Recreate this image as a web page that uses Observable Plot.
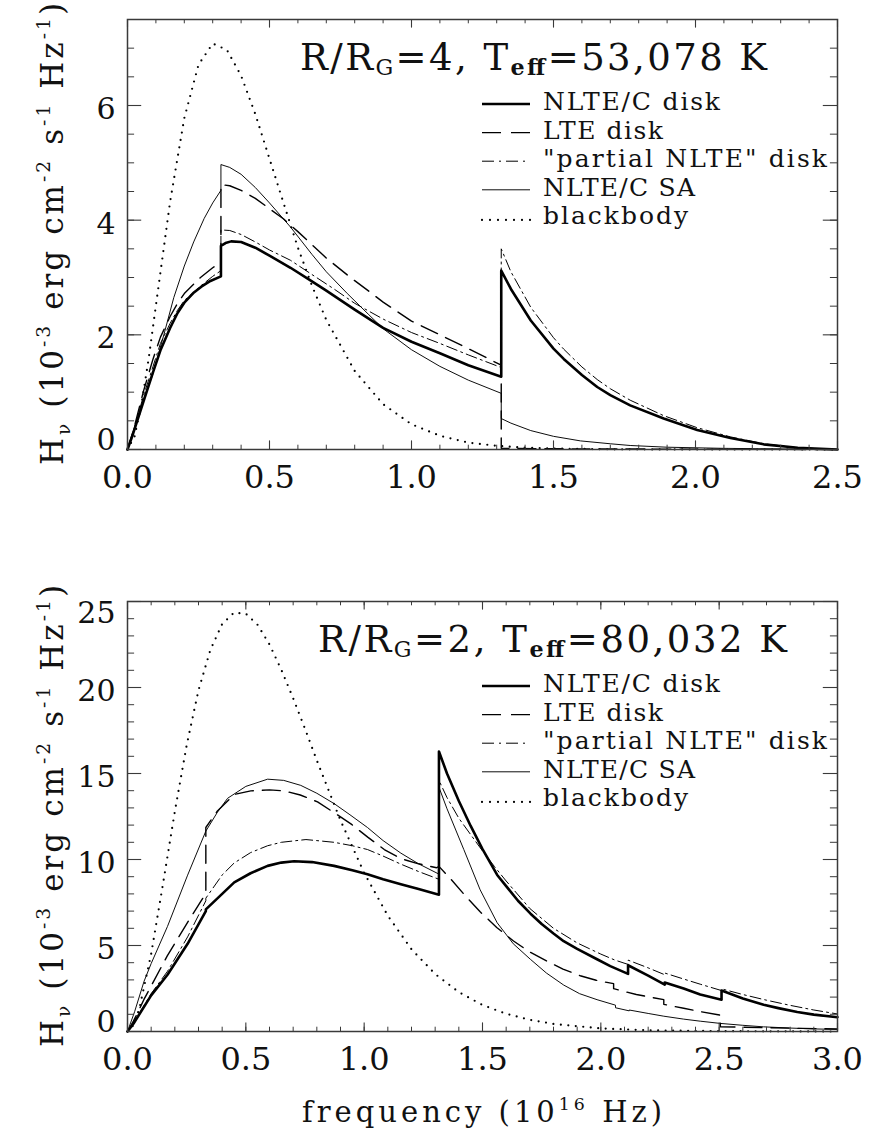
<!DOCTYPE html>
<html>
<head>
<meta charset="utf-8">
<script src="https://cdn.jsdelivr.net/npm/d3@7"></script>
<script src="https://cdn.jsdelivr.net/npm/@observablehq/plot@0.6"></script>
<style>
  body { margin: 0; background: #fff; }
  #chart svg { display: block; }
</style>
</head>
<body>
<div id="chart"></div>
<script>
// ---------- data: [frequency (1e16 Hz), H_nu (1e-3 erg cm^-2 s^-1 Hz^-1)] ----------
const seriesNames = ["NLTE/C disk", "LTE disk", "\"partial NLTE\" disk", "NLTE/C SA", "blackbody"];

// Top panel: R/R_G = 4, Teff = 53,078 K
const top_nlte_disk = [[0,0],[0.02,0.28],[0.057,0.85],[0.09,1.35],[0.116,1.73],[0.15,2.12],[0.175,2.37],[0.2,2.56],[0.234,2.74],[0.26,2.84],[0.292,2.94],[0.329,3.02],[0.329,3.55],[0.345,3.6],[0.365,3.63],[0.4,3.62],[0.45,3.52],[0.5,3.38],[0.574,3.17],[0.644,2.95],[0.7,2.77],[0.8,2.44],[0.9,2.12],[1.0,1.88],[1.1,1.68],[1.2,1.47],[1.316,1.27],[1.316,3.12],[1.35,2.8],[1.42,2.25],[1.5,1.76],[1.536,1.58],[1.6,1.3],[1.654,1.09],[1.7,0.95],[1.77,0.77],[1.888,0.54],[2.006,0.34],[2.123,0.2],[2.24,0.09],[2.36,0.03],[2.5,0]];
const top_lte_disk = [[0,0],[0.02,0.32],[0.057,1.03],[0.09,1.58],[0.116,1.96],[0.15,2.32],[0.175,2.54],[0.2,2.72],[0.257,3.0],[0.3,3.17],[0.329,3.27],[0.329,4.62],[0.36,4.6],[0.4,4.52],[0.45,4.38],[0.5,4.2],[0.55,4.02],[0.6,3.8],[0.65,3.57],[0.7,3.34],[0.785,3.0],[0.85,2.76],[0.9,2.57],[1.0,2.24],[1.1,2.0],[1.2,1.76],[1.316,1.47],[1.316,0.02],[1.6,0.01],[2.5,0]];
const top_partial_disk = [[0,0],[0.02,0.3],[0.057,0.95],[0.09,1.45],[0.116,1.85],[0.15,2.2],[0.175,2.42],[0.2,2.6],[0.257,2.85],[0.3,3.02],[0.329,3.12],[0.329,3.83],[0.36,3.82],[0.4,3.75],[0.45,3.62],[0.5,3.48],[0.574,3.3],[0.65,3.05],[0.727,2.8],[0.8,2.55],[0.902,2.27],[1.0,2.04],[1.1,1.85],[1.2,1.65],[1.316,1.43],[1.316,3.5],[1.35,3.1],[1.42,2.48],[1.5,1.95],[1.536,1.75],[1.6,1.44],[1.654,1.22],[1.7,1.06],[1.77,0.86],[1.888,0.59],[2.006,0.38],[2.123,0.22],[2.24,0.1],[2.36,0.03],[2.5,0]];
const top_nlte_sa = [[0,0],[0.02,0.32],[0.05,0.78],[0.087,1.28],[0.128,2.0],[0.163,2.65],[0.2,3.2],[0.233,3.62],[0.27,4.03],[0.3,4.3],[0.329,4.52],[0.329,4.97],[0.36,4.92],[0.4,4.8],[0.45,4.57],[0.5,4.3],[0.574,3.88],[0.65,3.4],[0.7,3.1],[0.774,2.72],[0.85,2.35],[0.902,2.1],[1.0,1.74],[1.1,1.45],[1.2,1.21],[1.316,0.98],[1.316,0.54],[1.35,0.46],[1.42,0.33],[1.5,0.23],[1.595,0.15],[1.7,0.1],[1.77,0.07],[1.9,0.04],[2.1,0.02],[2.3,0.01],[2.5,0]];
const top_blackbody = [[0,0],[0.025,0.23],[0.05,0.81],[0.075,1.6],[0.1,2.51],[0.15,4.32],[0.2,5.78],[0.25,6.71],[0.3,7.08],[0.35,6.97],[0.4,6.52],[0.45,5.85],[0.5,5.07],[0.55,4.29],[0.6,3.52],[0.65,2.85],[0.7,2.26],[0.8,1.37],[0.9,0.79],[1.0,0.44],[1.1,0.24],[1.2,0.12],[1.3,0.064],[1.4,0.032],[1.5,0.016],[1.7,0.004],[2.0,0],[2.5,0]];

// Bottom panel: R/R_G = 2, Teff = 80,032 K
const bot_nlte_disk = [[0,0],[0.025,0.45],[0.05,1.0],[0.1,2.1],[0.169,3.3],[0.254,5.1],[0.331,7.0],[0.331,7.1],[0.4,8.0],[0.451,8.67],[0.52,9.2],[0.592,9.63],[0.65,9.82],[0.704,9.9],[0.78,9.85],[0.873,9.63],[0.95,9.38],[1.014,9.14],[1.08,8.85],[1.155,8.56],[1.23,8.28],[1.316,7.95],[1.316,16.28],[1.35,15.0],[1.4,13.4],[1.45,11.95],[1.5,10.6],[1.562,9.1],[1.6,8.45],[1.65,7.6],[1.703,6.85],[1.75,6.25],[1.8,5.7],[1.843,5.25],[1.9,4.8],[1.984,4.2],[2.04,3.8],[2.115,3.35],[2.115,3.85],[2.2,3.25],[2.27,2.72],[2.27,2.85],[2.35,2.5],[2.42,2.15],[2.51,1.85],[2.51,2.38],[2.6,1.92],[2.688,1.55],[2.75,1.36],[2.83,1.13],[2.9,0.98],[3.0,0.83]];
const bot_lte_disk = [[0,0],[0.025,0.6],[0.05,1.3],[0.069,1.85],[0.1,2.65],[0.168,4.4],[0.252,6.3],[0.331,8.03],[0.331,11.86],[0.38,12.82],[0.451,13.78],[0.521,13.99],[0.6,14.05],[0.662,13.99],[0.73,13.75],[0.803,13.35],[0.87,12.75],[0.944,12.07],[1.015,11.3],[1.085,10.58],[1.155,10.05],[1.23,9.75],[1.306,9.52],[1.316,9.6],[1.365,8.88],[1.43,7.85],[1.49,6.96],[1.56,6.05],[1.631,5.26],[1.7,4.62],[1.772,4.09],[1.84,3.63],[1.913,3.24],[1.98,2.98],[2.054,2.78],[2.054,2.49],[2.15,2.15],[2.266,1.85],[2.266,1.58],[2.35,1.35],[2.42,1.16],[2.505,0.95],[2.505,0.28],[2.7,0.22],[2.85,0.18],[3.0,0.15]];
const bot_partial_disk = [[0,0],[0.025,0.48],[0.05,1.05],[0.1,2.2],[0.169,3.5],[0.254,5.5],[0.331,7.6],[0.331,7.75],[0.4,9.1],[0.451,9.8],[0.52,10.4],[0.592,10.8],[0.65,11.0],[0.754,11.16],[0.873,11.0],[0.95,10.8],[1.014,10.58],[1.08,10.2],[1.155,9.73],[1.23,9.3],[1.316,8.85],[1.316,14.6],[1.35,13.6],[1.4,12.4],[1.463,11.2],[1.5,10.5],[1.55,9.6],[1.6,8.75],[1.7,7.15],[1.8,6.0],[1.9,5.15],[2.0,4.5],[2.06,4.15],[2.115,3.9],[2.115,4.15],[2.2,3.7],[2.27,3.3],[2.27,3.4],[2.35,3.05],[2.42,2.75],[2.51,2.38],[2.51,2.48],[2.6,2.15],[2.7,1.82],[2.8,1.52],[2.9,1.25],[3.0,1.02]];
const bot_nlte_sa = [[0,0],[0.03,1.15],[0.07,2.92],[0.1,3.95],[0.169,6.11],[0.254,9.09],[0.331,11.65],[0.38,12.75],[0.423,13.56],[0.5,14.25],[0.592,14.67],[0.66,14.6],[0.732,14.31],[0.8,13.85],[0.873,13.25],[0.94,12.6],[1.014,11.86],[1.08,11.1],[1.155,10.37],[1.23,9.75],[1.316,9.15],[1.316,14.2],[1.35,12.95],[1.421,10.58],[1.49,8.24],[1.562,6.32],[1.63,5.1],[1.703,4.19],[1.77,3.4],[1.843,2.7],[1.91,2.2],[1.984,1.85],[2.062,1.53],[2.062,1.38],[2.12,1.2],[2.12,1.25],[2.2,1.05],[2.266,0.89],[2.35,0.72],[2.42,0.6],[2.505,0.47],[2.6,0.36],[2.688,0.27],[2.8,0.2],[2.9,0.15],[3.0,0.12]];
const bot_blackbody = [[0,0],[0.025,0.36],[0.05,1.32],[0.1,4.51],[0.15,8.58],[0.2,12.79],[0.25,16.64],[0.3,19.84],[0.35,22.18],[0.4,23.69],[0.45,24.35],[0.5,24.29],[0.55,23.64],[0.6,22.5],[0.65,21.03],[0.7,19.37],[0.75,17.6],[0.8,15.76],[0.9,12.27],[1.0,9.22],[1.1,6.73],[1.2,4.78],[1.3,3.34],[1.4,2.29],[1.5,1.54],[1.6,1.03],[1.7,0.68],[1.8,0.44],[2.0,0.18],[2.2,0.07],[2.5,0.02],[3.0,0]];

// ---------- ticks ----------
const topXMajor = [0, 0.5, 1.0, 1.5, 2.0, 2.5];
const topYMajor = [0, 2, 4, 6];
const topYLabelsMid = [2, 4, 6];
const botXMajor = [0, 0.5, 1.0, 1.5, 2.0, 2.5, 3.0];
const botYMajor = [0, 5, 10, 15, 20, 25];
const botYLabelsMid = [5, 10, 15, 20];

const FONT = "DejaVu Serif";
const INK = "#111";
const AXIS = "#3a3a3a";

const styles = {
  nlte_disk:    {strokeWidth: 2.6},
  lte_disk:     {strokeWidth: 1.4, strokeDasharray: "18,9"},
  partial_disk: {strokeWidth: 1.0, strokeDasharray: "11,4,2,4"},
  nlte_sa:      {strokeWidth: 0.95},
  blackbody:    {strokeWidth: 2.2, strokeDasharray: "0,7.5", strokeLinecap: "round"}
};

function rich(svg, o, parts) {
  const t = svg.append("text")
    .attr("x", o.x).attr("y", o.y)
    .attr("font-family", FONT).attr("font-size", o.size)
    .attr("fill", INK)
    .attr("text-anchor", o.anchor || "start");
  if (o.rotate) t.attr("transform", `rotate(-90 ${o.x} ${o.y})`);
  if (o.length) t.attr("textLength", o.length).attr("lengthAdjust", "spacing");
  let shift = 0;
  for (const [s, kind, weight] of parts) {
    const target = kind === "sub" ? o.size * (o.subShift ?? 0.22)
                 : kind === "sup" ? -o.size * 0.42 : 0;
    const sp = t.append("tspan").attr("dy", target - shift).text(s)
      .attr("font-size", kind === "n" ? o.size : o.size * (o.scriptScale ?? 0.6));
    if (weight) sp.attr("font-weight", weight);
    shift = target;
  }
  return t;
}

function panel(cfg) {
  const W = 869, ML = 127, MR = 32;
  const plotW = W - ML - MR;
  const plotH = cfg.height - cfg.mt - cfg.mb;
  const xMinor = d3.range(0, Math.round(cfg.xDomain[1] * 10) + 1).map(i => i / 10);
  const yMinor = d3.range(0, Math.round(cfg.yDomain[1] / cfg.yMinorStep) + 1).map(i => i * cfg.yMinorStep);
  const xLenMaj = 8.6, xLenMin = 4.3, yLenMaj = 14.2, yLenMin = 7.1;
  const lineOf = (data, st) => Plot.line(data, {x: d => d[0], y: d => d[1], stroke: "#000", strokeLinejoin: "round", ...st});
  const labelFont = {fontFamily: FONT, fill: INK};

  const plot = Plot.plot({
    width: W, height: cfg.height,
    marginLeft: ML, marginRight: MR, marginTop: cfg.mt, marginBottom: cfg.mb,
    x: {domain: cfg.xDomain, axis: null},
    y: {domain: cfg.yDomain, axis: null},
    style: {fontFamily: FONT, background: "#fff", color: INK, overflow: "visible"},
    marks: [
      // data
      lineOf(cfg.series.blackbody, styles.blackbody),
      lineOf(cfg.series.nlte_sa, styles.nlte_sa),
      lineOf(cfg.series.partial_disk, styles.partial_disk),
      lineOf(cfg.series.lte_disk, styles.lte_disk),
      lineOf(cfg.series.nlte_disk, styles.nlte_disk),
      // inward ticks, all four sides
      Plot.ruleX(xMinor, {x: d => d, insetTop: plotH - xLenMin, stroke: AXIS, strokeWidth: 1}),
      Plot.ruleX(cfg.xMajor, {x: d => d, insetTop: plotH - xLenMaj, stroke: AXIS, strokeWidth: 1.1}),
      Plot.ruleX(xMinor, {x: d => d, insetBottom: plotH - xLenMin, stroke: AXIS, strokeWidth: 1}),
      Plot.ruleX(cfg.xMajor, {x: d => d, insetBottom: plotH - xLenMaj, stroke: AXIS, strokeWidth: 1.1}),
      Plot.ruleY(yMinor, {y: d => d, insetRight: plotW - yLenMin, stroke: AXIS, strokeWidth: 1}),
      Plot.ruleY(cfg.yMajor, {y: d => d, insetRight: plotW - yLenMaj, stroke: AXIS, strokeWidth: 1.1}),
      Plot.ruleY(yMinor, {y: d => d, insetLeft: plotW - yLenMin, stroke: AXIS, strokeWidth: 1}),
      Plot.ruleY(cfg.yMajor, {y: d => d, insetLeft: plotW - yLenMaj, stroke: AXIS, strokeWidth: 1.1}),
      Plot.frame({stroke: AXIS, strokeWidth: 1.5}),
      // tick labels
      Plot.text(cfg.xMajor, {x: d => d, frameAnchor: "bottom", dy: 38.8, text: d => d.toFixed(1), fontSize: 32, ...labelFont}),
      Plot.text(cfg.yMid, {y: d => d, frameAnchor: "left", dx: -12, dy: 4, textAnchor: "end", text: d => String(d), fontSize: 30, ...labelFont}),
      Plot.text([cfg.yDomain[0]], {y: d => d, frameAnchor: "left", dx: -12, dy: -9.6, textAnchor: "end", text: d => String(d), fontSize: 30, ...labelFont}),
      Plot.text(cfg.yTopLabel, {y: d => d, frameAnchor: "left", dx: -12, dy: 11.4, textAnchor: "end", text: d => String(d), fontSize: 30, ...labelFont})
    ]
  });

  const svg = d3.select(plot);
  const top = cfg.mt;

  // panel title
  rich(svg, {x: cfg.titleX, y: top + 51, size: 37, length: cfg.titleLen, subShift: 0.14, scriptScale: 0.6}, [
    ["R/R", "n"], ["G", "sub"], [`=${cfg.ratio}, T`, "n"], ["eff", "sub", "bold"], [`=${cfg.teff} K`, "n"]
  ]);

  // y-axis title
  rich(svg, {x: 63, y: top + plotH / 2, size: 31, rotate: true, anchor: "middle", length: 462, subShift: 0.22}, [
    ["H", "n"], ["\u03bd", "sub"], [" (10", "n"], ["-3", "sup"], [" erg cm", "n"], ["-2", "sup"],
    [" s", "n"], ["-1", "sup"], [" Hz", "n"], ["-1", "sup"], [")", "n"]
  ]);

  // legend
  const lx0 = 482, lx1 = 530, tx = 543;
  const legendItems = [
    {label: seriesNames[0], len: 177, st: {"stroke-width": 2.6}},
    {label: seriesNames[1], len: 120, st: {"stroke-width": 1.4, "stroke-dasharray": "19,10"}},
    {label: seriesNames[2], len: 284, st: {"stroke-width": 1.0, "stroke-dasharray": "12,5,2,5"}},
    {label: seriesNames[3], len: 152, st: {"stroke-width": 0.95}},
    {label: seriesNames[4], len: 145, st: {"stroke-width": 2.2, "stroke-dasharray": "0,8", "stroke-linecap": "round"}, dot: true}
  ];
  legendItems.forEach((it, i) => {
    const base = top + 91 + i * 28.6;
    const ly = base - (it.dot ? 4.5 : 6);
    const ln = svg.append("line").attr("x1", lx0).attr("x2", lx1 + (it.dot ? 1 : 0)).attr("y1", ly).attr("y2", ly).attr("stroke", "#000");
    for (const k in it.st) ln.attr(k, it.st[k]);
    svg.append("text").attr("x", tx).attr("y", base)
      .attr("text-anchor", "start")
      .attr("font-family", FONT).attr("font-size", 25).attr("fill", INK)
      .attr("textLength", it.len).attr("lengthAdjust", "spacing")
      .text(it.label);
  });

  if (cfg.xTitle) {
    rich(svg, {x: ML + plotW / 2, y: top + plotH + 91, size: 29, anchor: "middle", length: 360}, [
      ["frequency (10", "n"], ["16", "sup"], [" Hz)", "n"]
    ]);
  }
  return plot;
}

const chart = document.getElementById("chart");
chart.appendChild(panel({
  height: 545, mt: 19, mb: 96,
  xDomain: [0, 2.5], yDomain: [0, 7.5], yMinorStep: 0.5,
  xMajor: topXMajor, yMajor: topYMajor, yMid: topYLabelsMid, yTopLabel: [],
  series: {nlte_disk: top_nlte_disk, lte_disk: top_lte_disk, partial_disk: top_partial_disk, nlte_sa: top_nlte_sa, blackbody: top_blackbody},
  titleX: 300, titleLen: 467, ratio: 4, teff: "53,078",
  xTitle: false
}));
chart.appendChild(panel({
  height: 590, mt: 56, mb: 104,
  xDomain: [0, 3.0], yDomain: [0, 25], yMinorStep: 1,
  xMajor: botXMajor, yMajor: botYMajor, yMid: botYLabelsMid, yTopLabel: [25],
  series: {nlte_disk: bot_nlte_disk, lte_disk: bot_lte_disk, partial_disk: bot_partial_disk, nlte_sa: bot_nlte_sa, blackbody: bot_blackbody},
  titleX: 318, titleLen: 469, ratio: 2, teff: "80,032",
  xTitle: true
}));
</script>
</body>
</html>
